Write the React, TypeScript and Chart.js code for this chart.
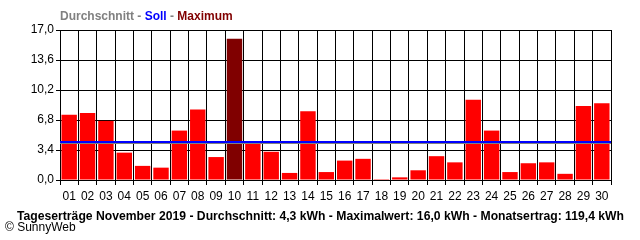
import React, { useEffect, useRef } from "react";
import { Chart, registerables } from "chart.js";

Chart.register(...registerables);

const days = ["01","02","03","04","05","06","07","08","09","10","11","12","13","14","15","16","17","18","19","20","21","22","23","24","25","26","27","28","29","30"];
const dailyYield = [7.4,7.6,6.7,3.1,1.6,1.4,5.6,8.0,2.6,16.0,4.4,3.2,0.8,7.8,0.9,2.2,2.4,0.1,0.3,1.1,2.7,2.0,9.1,5.6,0.9,1.9,2.0,0.7,8.4,8.7];
const yTicks = [0, 3.4, 6.8, 10.2, 13.6, 17.0];
const averageValue = 4.25;
const targetValue = 4.35;
const maxIndex = 9;
const headerParts = [
  { text: "Durchschnitt", color: "#808080" },
  { text: " - ", color: "#808080" },
  { text: "Soll", color: "#0000ff" },
  { text: " - ", color: "#808080" },
  { text: "Maximum", color: "#800000" },
];
const footerTitle = "Tageserträge November 2019 - Durchschnitt: 4,3 kWh - Maximalwert: 16,0 kWh - Monatsertrag: 119,4 kWh";
const copyright = "© SunnyWeb";

const FONT = "'Liberation Sans', Arial, sans-serif";

const overlay = {
  id: "overlay",
  beforeDraw(chart: any) {
    const ctx = chart.ctx;
    ctx.save();
    ctx.fillStyle = "#ffffff";
    ctx.fillRect(0, 0, chart.width, chart.height);
    ctx.restore();
  },
  afterDatasetsDraw(chart: any) {
    const ctx = chart.ctx;
    const y = chart.scales.y;
    const area = chart.chartArea;
    ctx.save();
    const ya = Math.round(y.getPixelForValue(averageValue)) + 0.5;
    ctx.strokeStyle = "#808080";
    ctx.lineWidth = 1;
    ctx.beginPath();
    ctx.moveTo(area.left, ya);
    ctx.lineTo(area.right, ya);
    ctx.stroke();
    const ys = Math.round(y.getPixelForValue(targetValue));
    ctx.strokeStyle = "#0000ff";
    ctx.lineWidth = 2;
    ctx.beginPath();
    ctx.moveTo(area.left, ys);
    ctx.lineTo(area.right, ys);
    ctx.stroke();
    ctx.restore();
  },
  afterDraw(chart: any) {
    const ctx = chart.ctx;
    ctx.save();
    ctx.textBaseline = "middle";
    ctx.font = `bold 12px ${FONT}`;
    let x = chart.chartArea.left;
    for (const p of headerParts) {
      ctx.fillStyle = p.color;
      ctx.fillText(p.text, x, 17);
      x += ctx.measureText(p.text).width;
    }
    ctx.fillStyle = "#000000";
    ctx.font = `bold 12px ${FONT}`;
    const w = ctx.measureText(footerTitle).width;
    const target = 607;
    ctx.save();
    ctx.translate(17, 217);
    ctx.scale(target / w, 1);
    ctx.fillText(footerTitle, 0, 0);
    ctx.restore();
    ctx.font = `12px ${FONT}`;
    ctx.fillText(copyright, 5, 228);
    ctx.restore();
  },
};

export default function App() {
  const ref = useRef<HTMLCanvasElement>(null);
  useEffect(() => {
    if (!ref.current) return;
    const chart = new Chart(ref.current, {
      type: "bar",
      data: {
        labels: days,
        datasets: [
          {
            data: dailyYield,
            backgroundColor: dailyYield.map((_, i) => (i === maxIndex ? "#800000" : "#ff0000")),
            barPercentage: 0.84,
            categoryPercentage: 1,
            borderWidth: 0,
          },
        ],
      },
      options: {
        animation: false,
        responsive: false,
        maintainAspectRatio: false,
        devicePixelRatio: 1,
        layout: { padding: { top: 30, right: 29, left: 0, bottom: 0 } },
        plugins: { legend: { display: false }, tooltip: { enabled: false }, title: { display: false } },
        scales: {
          x: {
            type: "category",
            offset: true,
            grid: { offset: true, color: "#000000", lineWidth: 1, tickLength: 5, drawTicks: true },
            border: { color: "#000000", width: 1 },
            ticks: { color: "#000000", font: { family: FONT, size: 12 }, padding: 4, maxRotation: 0, autoSkip: false },
            afterFit(scale: any) { scale.height = 60; },
          },
          y: {
            min: 0,
            max: 17,
            afterBuildTicks(scale: any) { scale.ticks = yTicks.map((v) => ({ value: v })); },
            grid: { color: "#000000", lineWidth: 1, tickLength: 4 },
            border: { color: "#000000", width: 1 },
            ticks: {
              color: "#000000",
              font: { family: FONT, size: 12 },
              padding: 2,
              callback: (v: any) => Number(v).toFixed(1).replace(".", ","),
            },
            afterFit(scale: any) { scale.width = 60; },
          },
        },
      },
      plugins: [overlay],
    });
    return () => chart.destroy();
  }, []);
  return (
    <div style={{ position: "absolute", left: 0, top: 0, width: 640, height: 240 }}>
      <canvas ref={ref} width={640} height={240} style={{ width: 640, height: 240, display: "block" }} />
    </div>
  );
}
